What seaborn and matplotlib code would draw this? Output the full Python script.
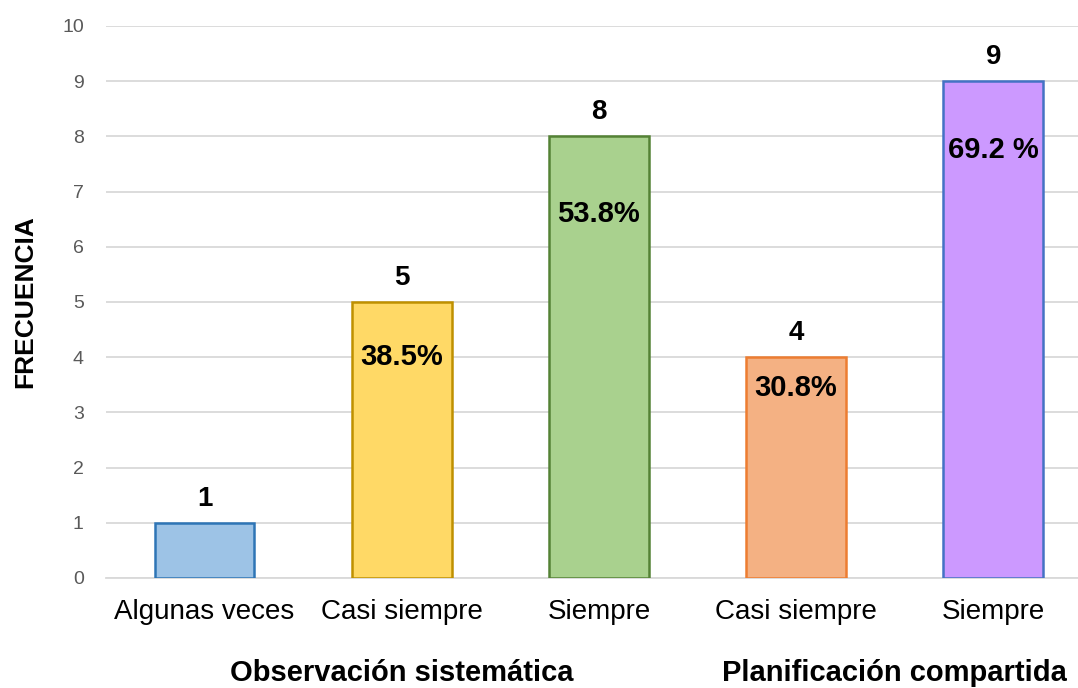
import numpy as np
import matplotlib
matplotlib.use("Agg")
import matplotlib.pyplot as plt
import seaborn as sns
import pandas as pd

# data
categorias = ["Algunas veces", "Casi siempre", "Siempre", "Casi siempre", "Siempre"]
frecuencias = [1, 5, 8, 4, 9]
porcentajes = ["", "38.5%", "53.8%", "30.8%", "69.2 %"]
pct_offset = [0, 1.0, 1.4, 0.55, 1.25]
grupos = ["Observación sistemática", "Planificación compartida"]
grupo_pos = [1.0, 3.5]
relleno = ["#9DC3E6", "#FFD966", "#A9D18E", "#F4B183", "#CC99FF"]
borde = ["#2E75B6", "#BF9000", "#548235", "#ED7D31", "#4472C4"]

df = pd.DataFrame({"pos": range(len(categorias)), "frec": frecuencias})

sns.set_style("white")
plt.rcParams["font.family"] = ["Liberation Sans", "DejaVu Sans"]

fig = plt.figure(figsize=(10.78, 6.88), dpi=100)
ax = fig.add_axes([106 / 1078, 1 - 578 / 688, (1078 - 106) / 1078, (578 - 26) / 688])

sns.barplot(data=df, x="pos", y="frec", hue="pos", palette=relleno, legend=False,
            width=0.505, saturation=1, ax=ax, zorder=3)
for i, p in enumerate(ax.patches):
    p.set_edgecolor(borde[i])
    p.set_linewidth(1.8)

ax.set_ylim(0, 10)
ax.set_xlim(-0.5, 4.43)
ax.set_yticks(range(0, 11))
ax.yaxis.grid(True, color="#D9D9D9", linewidth=1.3, zorder=0)
ax.tick_params(axis="y", labelsize=14, labelcolor="#595959", length=0, pad=16)
ax.set_xticks(range(len(categorias)))
ax.set_xticklabels(categorias, fontsize=20, color="black")
ax.tick_params(axis="x", length=0, pad=15)
for s in ["top", "right", "left"]:
    ax.spines[s].set_visible(False)
ax.spines["bottom"].set_color("#D9D9D9")
ax.spines["bottom"].set_linewidth(1.3)
ax.set_xlabel("")
ax.set_ylabel("FRECUENCIA", fontsize=19, fontweight="bold", color="black", labelpad=18)

for i, v in enumerate(frecuencias):
    ax.text(i, v + 0.2, str(v), ha="center", va="bottom", fontsize=20,
            fontweight="bold", color="black")
    if porcentajes[i]:
        ax.text(i, v - pct_offset[i], porcentajes[i], ha="center", va="center",
                fontsize=21, fontweight="bold", color="black", zorder=4)

for g, x in zip(grupos, grupo_pos):
    ax.text(x, -1.72, g, ha="center", va="center", fontsize=21,
            fontweight="bold", color="black")

fig.savefig("out.png", dpi=100)
